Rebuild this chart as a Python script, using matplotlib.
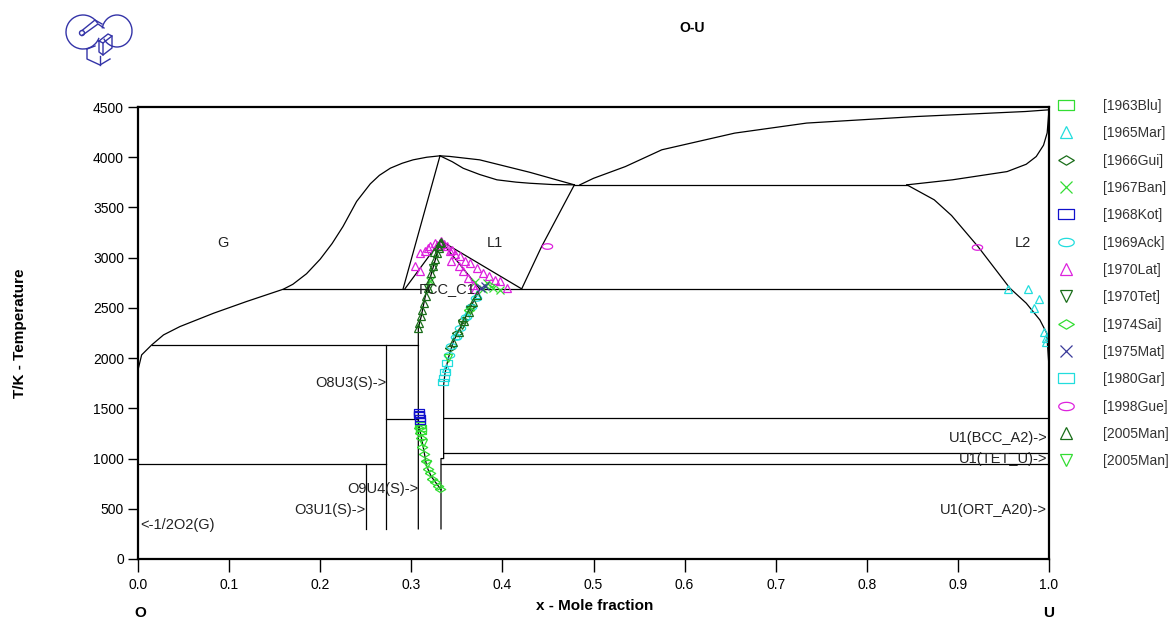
import numpy as np
import matplotlib
matplotlib.use("Agg")
import matplotlib.pyplot as plt
from matplotlib.patches import Arc, Circle

plt.rcParams['font.family'] = ['Liberation Sans', 'DejaVu Sans']

# %% Phase boundaries (x = mole fraction U, T in K)

gas_left_x = [0.0, 0.004, 0.015, 0.028, 0.046, 0.083, 0.119, 0.1595, 0.170, 0.185, 0.200, 0.213, 0.225,
              0.240, 0.255, 0.265, 0.277, 0.290, 0.302, 0.317, 0.3315]
gas_left_t = [1882, 2032, 2131, 2231, 2314, 2447, 2563, 2686, 2735, 2840, 2985, 3140, 3310,
              3560, 3735, 3820, 3891, 3940, 3974, 4000, 4014]

l1_left_x = [0.3315, 0.291]
l1_left_t = [4014, 2690]

gas_top_x = [0.3315, 0.342, 0.375, 0.430, 0.479]
gas_top_t = [4014, 4008, 3974, 3850, 3725]

l1_top_x = [0.3315, 0.345, 0.357, 0.375, 0.394, 0.415, 0.430, 0.455, 0.479]
l1_top_t = [4014, 3955, 3890, 3828, 3775, 3752, 3741, 3728, 3725]

gas_right_x = [0.485, 0.500, 0.535, 0.575, 0.655, 0.734, 0.854, 0.974, 1.0]
gas_right_t = [3725, 3790, 3907, 4074, 4240, 4340, 4405, 4455, 4472]

gas_l2_x = [0.844, 0.894, 0.954, 0.975, 0.986, 0.994, 0.998, 1.0]
gas_l2_t = [3725, 3775, 3857, 3930, 4007, 4120, 4243, 4472]

l1_right_x = [0.479, 0.443, 0.421]
l1_right_t = [3725, 3110, 2686]

l2_x = [0.844, 0.874, 0.893, 0.922, 0.957, 0.975, 0.990, 0.9975, 0.999, 1.0]
l2_t = [3725, 3576, 3420, 3111, 2697, 2547, 2380, 2248, 2049, 1915]

fcc_sol_left_x = [0.293, 0.332]
fcc_sol_left_t = [2690, 3170]

fcc_liq_right_x = [0.332, 0.421]
fcc_liq_right_t = [3170, 2690]

fcc_sol_right_x = [0.332, 0.375]
fcc_sol_right_t = [3170, 2690]

fcc_left_x = [0.332, 0.327, 0.322, 0.3185, 0.315, 0.311, 0.3077, 0.3077]
fcc_left_t = [3170, 3000, 2840, 2730, 2600, 2420, 2300, 300]

fcc_right_x = [0.375, 0.372, 0.3644, 0.3553, 0.3461, 0.3406, 0.337, 0.3355, 0.3355, 0.3326, 0.3326]
fcc_right_t = [2690, 2629, 2497, 2331, 2164, 1999, 1850, 1733, 1000, 1000, 300]

u4o9_x = [0.3077, 0.308, 0.313, 0.317, 0.322, 0.3315, 0.3326]
u4o9_t = [1400, 1351, 1118, 919, 820, 704, 690]

# horizontal invariants: (x_start, x_end, T)
invariants = [
    (0.1595, 0.3185, 2690),
    (0.375, 0.957, 2690),
    (0.479, 0.844, 3725),
    (0.015, 0.3077, 2131),
    (0.2727, 0.3077, 1397),
    (0.0, 0.2727, 950),
    (0.3355, 1.0, 1400),
    (0.3355, 1.0, 1053),
    (0.3326, 1.0, 950),
]

# stoichiometric compounds: (x, T_low, T_high)
compounds = [
    (0.25, 300, 950),
    (0.2727, 300, 2131),
]

# %% Experimental data

blu_x = [0.310, 0.3105, 0.311]
blu_t = [1330, 1300, 1270]

mar_x = [0.955, 0.977, 0.989, 0.9835, 0.994, 0.997, 0.997, 0.372, 0.360, 0.349, 0.338]
mar_t = [2686, 2686, 2586, 2497, 2264, 2198, 2160, 2640, 2430, 2230, 1900]

gui_x = [0.343, 0.350, 0.357, 0.366]
gui_t = [2100, 2250, 2380, 2520]

ban_x = [0.379, 0.383, 0.390, 0.397, 0.3205, 0.370]
ban_t = [2690, 2749, 2700, 2680, 2766, 2760]

kot_x = [0.309, 0.309, 0.3095, 0.310, 0.3085]
kot_t = [1460, 1430, 1400, 1375, 1445]

ack_x = [0.341, 0.344, 0.349, 0.354, 0.360, 0.366, 0.371]
ack_t = [2030, 2120, 2210, 2300, 2410, 2510, 2600]

lat_x = [0.3095, 0.315, 0.3205, 0.326, 0.333, 0.339, 0.3425, 0.348, 0.353, 0.359, 0.3645,
         0.3718, 0.379, 0.385, 0.392, 0.397, 0.4047, 0.344, 0.352, 0.357, 0.3626, 0.368,
         0.370, 0.304, 0.3095, 0.330, 0.336, 0.318, 0.328, 0.345]
lat_t = [3048, 3065, 3115, 3148, 3165, 3115, 3065, 3032, 3015, 2965, 2948,
         2898, 2849, 2815, 2782, 2766, 2699, 2965, 2915, 2865, 2798, 2732,
         2690, 2915, 2865, 3120, 3140, 3100, 3130, 3080]

tet_x = [0.3185, 0.324, 0.3553, 0.3644]
tet_t = [2700, 2900, 2330, 2480]

sai_x = [0.309, 0.310, 0.311, 0.312, 0.314, 0.316, 0.318, 0.320, 0.323, 0.326, 0.329, 0.331, 0.385, 0.363]
sai_t = [1300, 1250, 1200, 1120, 1050, 980, 900, 860, 800, 770, 730, 700, 2730, 2480]

mat_x = [0.377, 0.381]
mat_t = [2700, 2720]

gar_x = [0.336, 0.337, 0.3388, 0.335]
gar_t = [1800, 1866, 1949, 1760]

gue_x = [0.449, 0.9206]
gue_t = [3118, 3105]

man1_x = [0.3077, 0.309, 0.311, 0.312, 0.314, 0.316, 0.318, 0.320, 0.322, 0.324, 0.326,
          0.328, 0.330, 0.332, 0.346, 0.352, 0.358, 0.363, 0.368, 0.372, 0.325, 0.329, 0.333]
man1_t = [2300, 2350, 2420, 2480, 2550, 2620, 2700, 2780, 2850, 2920, 2990,
          3050, 3100, 3150, 2164, 2260, 2370, 2460, 2560, 2630, 3060, 3120, 3160]

man2_x = [0.313, 0.317, 0.3405]
man2_t = [1150, 950, 2000]

labels = ['[1963Blu]', '[1965Mar]', '[1966Gui]', '[1967Ban]', '[1968Kot]', '[1969Ack]', '[1970Lat]',
          '[1970Tet]', '[1974Sai]', '[1975Mat]', '[1980Gar]', '[1998Gue]', '[2005Man]', '[2005Man]']

# %% Marker shapes

rect = [(-1.5, -1), (1.5, -1), (1.5, 1), (-1.5, 1), (-1.5, -1)]
dia = [(-1.5, 0), (0, 0.9), (1.5, 0), (0, -0.9), (-1.5, 0)]
ang = np.linspace(0, 2 * np.pi, 25)
ell = list(zip(1.5 * np.cos(ang), 0.8 * np.sin(ang)))

lgreen = '#33dd33'
cyan = '#22dddd'
dgreen = '#1a6e1a'
magenta = '#dd22dd'
blue = '#1111cc'
navy = '#3a3a99'

series = [
    (blu_x, blu_t, rect, lgreen),
    (mar_x, mar_t, '^', cyan),
    (gui_x, gui_t, dia, dgreen),
    (ban_x, ban_t, 'x', lgreen),
    (kot_x, kot_t, rect, blue),
    (ack_x, ack_t, ell, cyan),
    (lat_x, lat_t, '^', magenta),
    (tet_x, tet_t, 'v', dgreen),
    (sai_x, sai_t, dia, lgreen),
    (mat_x, mat_t, 'x', navy),
    (gar_x, gar_t, rect, cyan),
    (gue_x, gue_t, ell, magenta),
    (man1_x, man1_t, '^', dgreen),
    (man2_x, man2_t, 'v', lgreen),
]

# %% Plot

fig = plt.figure(figsize=(11.72, 6.19), dpi=100)
ax = fig.add_axes([138 / 1172, 1 - 559 / 619, 911 / 1172, 452 / 619])

lk = dict(color='black', lw=0.9)
for xs, ts in [(gas_left_x, gas_left_t), (l1_left_x, l1_left_t), (gas_top_x, gas_top_t),
               (l1_top_x, l1_top_t), (gas_right_x, gas_right_t), (gas_l2_x, gas_l2_t),
               (l1_right_x, l1_right_t), (l2_x, l2_t), (fcc_sol_left_x, fcc_sol_left_t),
               (fcc_liq_right_x, fcc_liq_right_t), (fcc_sol_right_x, fcc_sol_right_t),
               (fcc_left_x, fcc_left_t), (fcc_right_x, fcc_right_t), (u4o9_x, u4o9_t)]:
    ax.plot(xs, ts, **lk)
for x0, x1, t in invariants:
    ax.plot([x0, x1], [t, t], **lk)
for x, t0, t1 in compounds:
    ax.plot([x, x], [t0, t1], **lk)

handles = []
for xs, ts, m, c in series:
    ms = 5.5 if isinstance(m, str) else 7.5
    h, = ax.plot(xs, ts, linestyle='none', marker=m, markersize=ms, mfc='none', mec=c, mew=0.9)
    handles.append(h)

txt = dict(fontsize=10.5, color='#222222')
ax.text(0.093, 3150, 'G', ha='center', va='center', **txt)
ax.text(0.392, 3150, 'L1', ha='center', va='center', **txt)
ax.text(0.971, 3150, 'L2', ha='center', va='center', **txt)
ax.text(0.308, 2690, 'FCC_C1', ha='left', va='center', **txt)
ax.text(0.2727, 1750, 'O8U3(S)->', ha='right', va='center', **txt)
ax.text(0.3077, 700, 'O9U4(S)->', ha='right', va='center', **txt)
ax.text(0.25, 490, 'O3U1(S)->', ha='right', va='center', **txt)
ax.text(0.002, 335, '<-1/2O2(G)', ha='left', va='center', **txt)
ax.text(0.998, 1200, 'U1(BCC_A2)->', ha='right', va='center', **txt)
ax.text(0.998, 1000, 'U1(TET_U)->', ha='right', va='center', **txt)
ax.text(0.998, 490, 'U1(ORT_A20)->', ha='right', va='center', **txt)

ax.set_xlim(0, 1)
ax.set_ylim(0, 4500)
ax.set_xticks(np.arange(0, 1.01, 0.1))
ax.set_xticklabels(['%.1f' % v for v in np.arange(0, 1.01, 0.1)])
ax.set_yticks(np.arange(0, 4501, 500))
ax.tick_params(axis='x', direction='out', length=9, width=1, pad=5, labelsize=10)
ax.tick_params(axis='y', direction='out', length=7, width=1, pad=3, labelsize=10)
for s in ax.spines.values():
    s.set_linewidth(1.6)

leg = ax.legend(handles, labels, loc='upper left', bbox_to_anchor=(1.003, 1.03), frameon=False,
                fontsize=10, markerscale=1.5, handlelength=1.3, handletextpad=2.0,
                labelspacing=0.96, borderaxespad=0)
for t in leg.get_texts():
    t.set_color('#333333')

fig.text(692 / 1172, 1 - 28 / 619, 'O-U', ha='center', va='center', fontsize=10, fontweight='bold')
fig.text(20 / 1172, 1 - 333 / 619, 'T/K - Temperature', rotation=90, ha='center', va='center',
         fontsize=11, fontweight='bold')
fig.text(595 / 1172, 1 - 606 / 619, 'x - Mole fraction', ha='center', va='center',
         fontsize=11, fontweight='bold')
fig.text(140 / 1172, 1 - 613 / 619, 'O', ha='center', va='center', fontsize=11, fontweight='bold')
fig.text(1049 / 1172, 1 - 613 / 619, 'U', ha='center', va='center', fontsize=11, fontweight='bold')

# logo
lax = fig.add_axes([60 / 1172, 1 - 70 / 619, 85 / 1172, 62 / 619])
lax.set_xlim(60, 145)
lax.set_ylim(70, 8)
lax.axis('off')
lc = '#3434a8'
lax.add_patch(Arc((83, 32), 34, 34, theta1=20, theta2=330, color=lc, lw=1))
lax.add_patch(Arc((117, 31), 30, 32, theta1=-170, theta2=150, color=lc, lw=1))
lax.add_patch(Circle((82, 33), 2.5, fill=False, color=lc, lw=1))
lax.plot([82, 95, 102], [30.5, 20, 24], color=lc, lw=1)
lax.plot([82, 98, 104], [35.5, 24, 28], color=lc, lw=1)
lax.plot([99, 108, 112, 103, 99], [41, 34, 36, 43, 41], color=lc, lw=1)
lax.plot([99, 99, 103, 103], [41, 52, 55, 43], color=lc, lw=1)
lax.plot([112, 112, 103], [36, 48, 55], color=lc, lw=1)
lax.plot([87, 87, 100, 110], [49, 59, 65, 59], color=lc, lw=1)
lax.plot([100, 100], [65, 56], color=lc, lw=1)
lax.plot([87, 95], [49, 46], color=lc, lw=1)

fig.savefig('out.png', dpi=100)
